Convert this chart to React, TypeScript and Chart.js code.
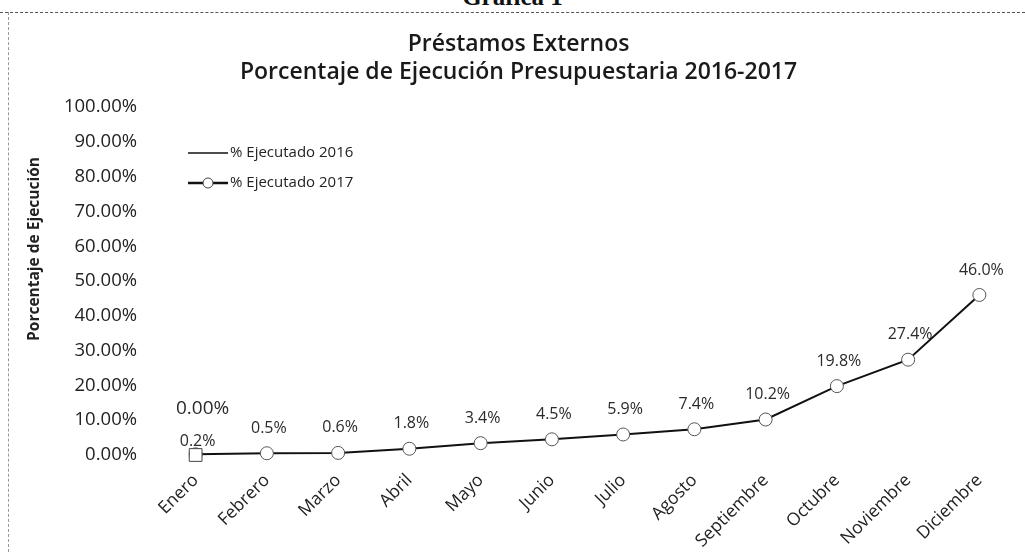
import React, { useEffect, useRef } from "react";
import { Chart, registerables } from "chart.js";

Chart.register(...registerables);

const months = ["Enero", "Febrero", "Marzo", "Abril", "Mayo", "Junio", "Julio", "Agosto", "Septiembre", "Octubre", "Noviembre", "Diciembre"];
const ejecutado2016: (number | null)[] = [0, null, null, null, null, null, null, null, null, null, null, null];
const ejecutado2017: number[] = [0.2, 0.5, 0.6, 1.8, 3.4, 4.5, 5.9, 7.4, 10.2, 19.8, 27.4, 46.0];
const yTicks = [0, 10, 20, 30, 40, 50, 60, 70, 80, 90, 100];
const titleLines = ["Préstamos Externos", "Porcentaje de Ejecución Presupuestaria 2016-2017"];
const legendNames = ["% Ejecutado 2016", "% Ejecutado 2017"];
const yAxisTitle = "Porcentaje de Ejecución";

const FONT = "'Open Sans', sans-serif";

const overlayPlugin = {
  id: "overlay",
  afterDraw(chart: any) {
    const ctx = chart.ctx;
    ctx.save();
    // data labels
    ctx.fillStyle = "#2a2a2a";
    ctx.textAlign = "center";
    ctx.textBaseline = "middle";
    chart.data.datasets.forEach((ds: any, di: number) => {
      const meta = chart.getDatasetMeta(di);
      meta.data.forEach((pt: any, i: number) => {
        const v = ds.data[i];
        if (v === null || v === undefined) return;
        let text: string;
        let lift: number;
        if (di === 0) {
          text = v.toFixed(2) + "%";
          ctx.font = `19px ${FONT}`;
          lift = 46;
        } else {
          text = v.toFixed(1) + "%";
          ctx.font = `16px ${FONT}`;
          lift = i === 0 ? 13 : 25;
        }
        ctx.fillText(text, pt.x + (di === 0 ? 7 : 2), pt.y - lift);
      });
    });
    // legend
    const lx = 188;
    const ly = [153, 183];
    ctx.textAlign = "left";
    ctx.font = `15px ${FONT}`;
    ctx.strokeStyle = "#111";
    ctx.lineWidth = 1.5;
    ctx.beginPath();
    ctx.moveTo(lx, ly[0]);
    ctx.lineTo(lx + 40, ly[0]);
    ctx.stroke();
    ctx.lineWidth = 2.5;
    ctx.beginPath();
    ctx.moveTo(lx, ly[1]);
    ctx.lineTo(lx + 40, ly[1]);
    ctx.stroke();
    ctx.beginPath();
    ctx.arc(lx + 20, ly[1], 5, 0, Math.PI * 2);
    ctx.fillStyle = "#fff";
    ctx.fill();
    ctx.lineWidth = 1;
    ctx.strokeStyle = "#444";
    ctx.stroke();
    ctx.fillStyle = "#222";
    ctx.fillText(legendNames[0], lx + 42, ly[0]);
    ctx.fillText(legendNames[1], lx + 42, ly[1]);
    // y axis title
    ctx.save();
    ctx.translate(35, 249);
    ctx.rotate(-Math.PI / 2);
    ctx.textAlign = "center";
    ctx.font = `bold 15.5px ${FONT}`;
    ctx.fillStyle = "#222";
    ctx.fillText(yAxisTitle, 0, 0);
    ctx.restore();
    ctx.restore();
  },
};

export default function App() {
  const ref = useRef<HTMLCanvasElement | null>(null);
  useEffect(() => {
    if (!ref.current) return;
    const chart = new Chart(ref.current, {
      type: "line",
      data: {
        labels: months,
        datasets: [
          {
            label: legendNames[0],
            data: ejecutado2016,
            order: 0,
            clip: false,
            borderColor: "#111",
            borderWidth: 1.5,
            pointStyle: "rect",
            pointRadius: 9,
            pointBackgroundColor: "#fff",
            pointBorderColor: "#444",
            pointBorderWidth: 1,
          },
          {
            label: legendNames[1],
            data: ejecutado2017,
            order: 1,
            clip: false,
            borderColor: "#111",
            borderWidth: 2,
            pointStyle: "circle",
            pointRadius: 6.5,
            pointBackgroundColor: "#fff",
            pointBorderColor: "#555",
            pointBorderWidth: 1,
            tension: 0,
          },
        ],
      },
      options: {
        responsive: false,
        animation: false,
        devicePixelRatio: 1,
        layout: { padding: { left: 22, right: 10, top: 30, bottom: 0 } },
        plugins: {
          legend: { display: false },
          tooltip: { enabled: false },
          title: {
            display: true,
            text: titleLines,
            color: "#1a1a1a",
            font: { family: FONT, size: 23, weight: "600", lineHeight: 1.22 },
            padding: { top: 0, bottom: 21 },
          },
        },
        scales: {
          x: {
            offset: true,
            grid: { display: false },
            border: { display: false },
            ticks: {
              color: "#222",
              font: { family: FONT, size: 17.5 },
              minRotation: 45,
              maxRotation: 45,
              padding: 7,
            },
            afterFit: (s: any) => {
              s.height = 97;
            },
          },
          y: {
            min: 0,
            max: 100,
            grid: { display: false },
            border: { display: false },
            afterBuildTicks: (s: any) => {
              s.ticks = yTicks.map((v) => ({ value: v }));
            },
            ticks: {
              color: "#222",
              font: { family: FONT, size: 18.5 },
              padding: 15,
              callback: (v: any) => Number(v).toFixed(2) + "%",
            },
            afterFit: (s: any) => {
              s.width = 138;
            },
          },
        },
      },
      plugins: [overlayPlugin],
    });
    return () => chart.destroy();
  }, []);

  return (
    <div style={{ position: "absolute", left: 0, top: 0, width: 1025, height: 552, overflow: "hidden", background: "#fff" }}>
      <div
        style={{
          position: "absolute",
          left: 0,
          width: 1025,
          top: -17,
          textAlign: "center",
          fontFamily: "'Liberation Serif', serif",
          fontWeight: "bold",
          fontSize: 25,
          color: "#111",
        }}
      >
        Gráfica 1
      </div>
      <div style={{ position: "absolute", left: 0, top: 12, width: 1025, borderTop: "1px dashed #555" }} />
      <div style={{ position: "absolute", left: 8, top: 12, height: 540, borderLeft: "1px dashed #999" }} />
      <canvas ref={ref} width={1025} height={552} style={{ position: "absolute", left: 0, top: 0 }} />
    </div>
  );
}
